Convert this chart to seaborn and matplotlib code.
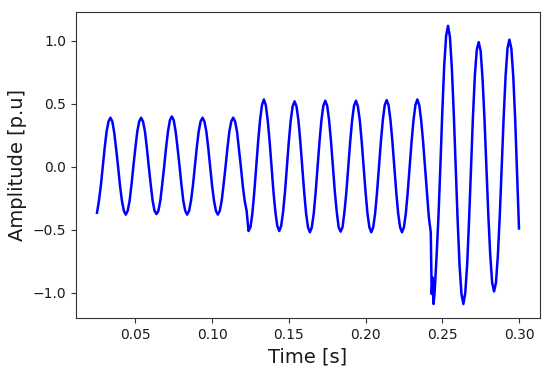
import numpy as np
import pandas as pd
import matplotlib
matplotlib.use("Agg")
import matplotlib.pyplot as plt
import seaborn as sns

# sample times: 1.25 ms grid from 0.025 s to 0.300 s
t_start, t_step, n_samples = 0.025, 0.00125, 221

# amplitude readings [p.u], one line per 20 ms cycle (16 samples each)
amplitude = [
    -0.365, -0.27, -0.15, 0.00, 0.15, 0.28, 0.36, 0.39, 0.36, 0.27, 0.14, 0.00, -0.15, -0.27, -0.35, -0.38,
    -0.35, -0.27, -0.14, 0.01, 0.15, 0.28, 0.36, 0.39, 0.36, 0.28, 0.15, 0.00, -0.14, -0.27, -0.35, -0.375,
    -0.35, -0.27, -0.14, 0.00, 0.15, 0.28, 0.37, 0.40, 0.37, 0.28, 0.15, 0.01, -0.14, -0.27, -0.35, -0.38,
    -0.35, -0.27, -0.15, 0.00, 0.15, 0.28, 0.36, 0.39, 0.36, 0.28, 0.15, 0.00, -0.15, -0.27, -0.35, -0.38,
    -0.35, -0.27, -0.14, 0.00, 0.15, 0.28, 0.36, 0.39, 0.36, 0.28, 0.14, 0.00, -0.15, -0.27, -0.35, -0.51,
    -0.48, -0.37, -0.20, 0.00, 0.20, 0.37, 0.49, 0.535, 0.49, 0.37, 0.20, 0.00, -0.20, -0.36, -0.47, -0.51,
    -0.47, -0.36, -0.20, 0.00, 0.20, 0.37, 0.48, 0.52, 0.48, 0.37, 0.20, 0.00, -0.20, -0.37, -0.48, -0.52,
    -0.48, -0.37, -0.20, 0.00, 0.20, 0.37, 0.485, 0.525, 0.485, 0.37, 0.20, 0.00, -0.20, -0.36, -0.48, -0.515,
    -0.48, -0.36, -0.20, 0.00, 0.20, 0.37, 0.485, 0.525, 0.48, 0.37, 0.20, 0.00, -0.20, -0.37, -0.48, -0.52,
    -0.48, -0.37, -0.20, 0.00, 0.20, 0.37, 0.49, 0.53, 0.49, 0.37, 0.20, 0.00, -0.20, -0.37, -0.48, -0.52,
    -0.48, -0.37, -0.20, 0.00, 0.20, 0.37, 0.49, 0.535, 0.49, 0.37, 0.20, 0.00, -0.20, -0.40, -0.52, -0.88,
    -1.00, -0.72, -0.40, 0.00, 0.43, 0.80, 1.04, 1.12, 1.03, 0.78, 0.42, 0.00, -0.42, -0.78, -1.01, -1.09,
    -1.00, -0.77, -0.41, 0.00, 0.40, 0.73, 0.93, 0.99, 0.92, 0.70, 0.38, 0.00, -0.38, -0.70, -0.92, -0.99,
    -0.92, -0.70, -0.38, 0.00, 0.39, 0.72, 0.94, 1.01, 0.94, 0.72, 0.38, -0.05, -0.49,
]

# extra readings of the disturbance spikes near 0.244 s
spike_time = [0.2431, 0.2443]
spike_amplitude = [-1.01, -1.09]

time = t_start + t_step * np.arange(n_samples)
df = pd.DataFrame({
    "Time [s]": np.concatenate([time, spike_time]),
    "Amplitude [p.u]": np.concatenate([amplitude, spike_amplitude]),
}).sort_values("Time [s]").reset_index(drop=True)

fig = plt.figure(figsize=(5.5, 3.71), dpi=100)
ax = fig.add_axes([0.138, 0.143, 0.844, 0.825])
sns.lineplot(data=df, x="Time [s]", y="Amplitude [p.u]", color="blue",
             linewidth=1.8, ax=ax, sort=False, estimator=None)
ax.set_xlabel("Time [s]", fontsize=14, color="#1a1a1a")
ax.set_ylabel("Amplitude [p.u]", fontsize=14, color="#1a1a1a")
ax.tick_params(labelsize=10, color="#333333", labelcolor="#1a1a1a")
for sp in ax.spines.values():
    sp.set_color("#333333")
fig.savefig("out.png", dpi=100)
